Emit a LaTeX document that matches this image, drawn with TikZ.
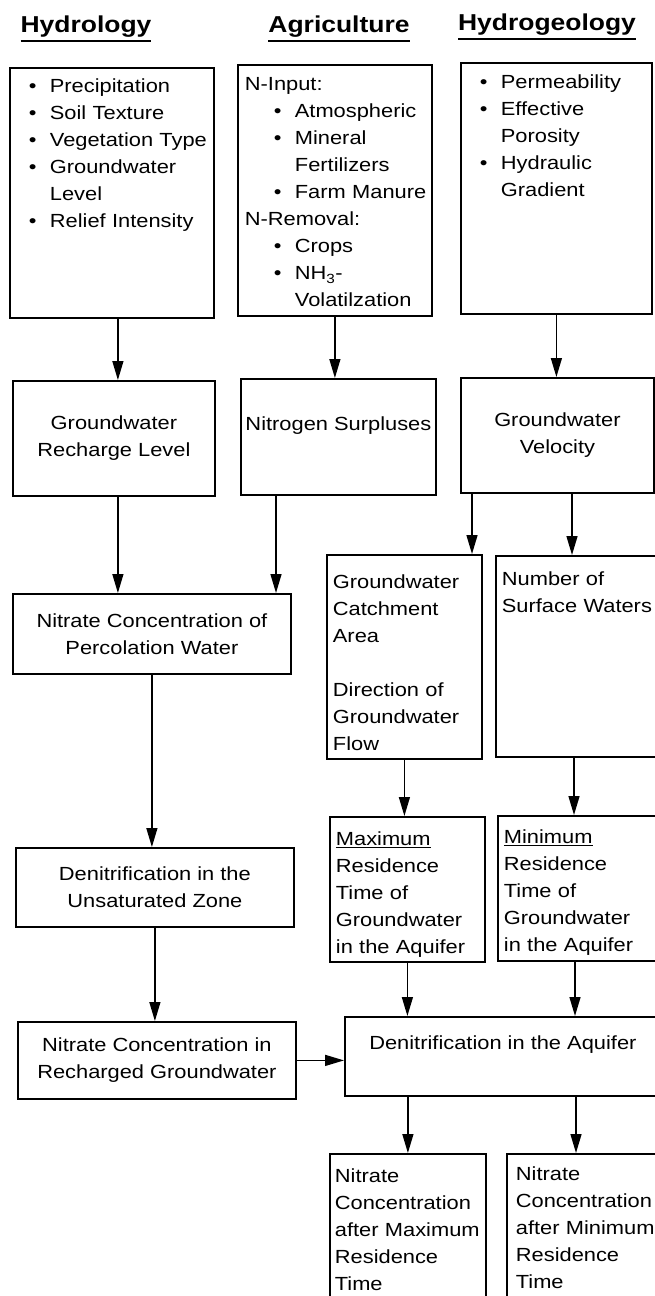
\documentclass[tikz,border=0pt]{standalone}
\usepackage{fontspec}
\setmainfont{Liberation Sans}[FakeStretch=1.15]
\usetikzlibrary{arrows.meta}

\newsavebox\headbox
\newcommand{\headul}[1]{\sbox\headbox{#1}\usebox\headbox\llap{\rule[-10pt]{\wd\headbox}{2.4pt}}}
\newcommand{\hbul}{\hspace*{17pt}\makebox[21pt][l]{\textbullet}}
\newcommand{\hcont}{\hspace*{38pt}}
\newcommand{\nhead}{\hspace*{5pt}}
\newcommand{\nbul}{\hspace*{34pt}\makebox[21pt][l]{\textbullet}}
\newcommand{\ncont}{\hspace*{55pt}}

\begin{document}
\begin{tikzpicture}[x=1pt, y=-1pt,
  head/.style={font=\fontsize{23}{28}\selectfont\bfseries, inner sep=0pt, anchor=base},
  frame/.style={draw, line width=1.8pt, inner ysep=0pt, inner xsep=6pt, anchor=north west, font=\fontsize{19}{27}\selectfont},
  listbox/.style={frame, align=left},
  midbox/.style={frame, align=center},
  arr/.style={-{Triangle[length=19pt,width=11pt]}, line width=1.4pt}
]
\useasboundingbox (0,0) rectangle (654,1296);

% headings
\node[head] (hhyd) at (86,32) {\headul{Hydrology}};
\node[head] (hagri) at (339,32) {\headul{Agriculture}};
\node[head] (hgeo) at (547,30) {\headul{Hydrogeology}};

% input boxes
\node[listbox, inner xsep=2pt, text width=200pt, text height=25pt, text depth=225pt] (hydbox) at (9,67) {
  \hbul Precipitation\\
  \hbul Soil Texture\\
  \hbul Vegetation Type\\
  \hbul Groundwater\\
  \hcont Level\\
  \hbul Relief Intensity};
\node[listbox, inner xsep=2pt, text width=190pt, text height=26pt, text depth=225pt] (agribox) at (237,64) {
  \nhead N-Input:\\
  \nbul Atmospheric\\
  \nbul Mineral\\
  \ncont Fertilizers\\
  \nbul Farm Manure\\
  \nhead N-Removal:\\
  \nbul Crops\\
  \nbul NH\textsubscript{3}-\\
  \ncont Volatilzation};
\node[listbox, inner xsep=2pt, text width=187pt, text height=26pt, text depth=225pt] (geobox) at (460,62) {
  \hbul Permeability\\
  \hbul Effective\\
  \hcont Porosity\\
  \hbul Hydraulic\\
  \hcont Gradient};

% second row
\node[midbox, minimum width=202pt, minimum height=115pt] (recharge) at (12,380) {Groundwater\\Recharge Level};
\node[midbox, inner xsep=3pt, minimum width=195pt, minimum height=116pt] (surplus) at (240,378) {Nitrogen Surpluses\\\mbox{}};
\node[midbox, minimum width=193pt, minimum height=115pt] (velocity) at (460,377) {Groundwater\\Velocity};

\node[midbox, minimum width=278pt, minimum height=80pt] (percol) at (12,593) {Nitrate Concentration of\\Percolation Water};
\node[listbox, text width=143pt, text height=34pt, text depth=170pt] (catchment) at (326,554) {
  Groundwater\\Catchment\\Area\\[27pt]Direction of\\Groundwater\\Flow};
\node[listbox, text width=155pt, text height=30pt, text depth=171pt] (surfwat) at (495,555) {Number of\\Surface Waters};

\node[midbox, minimum width=278pt, minimum height=79pt] (unsat) at (15,847) {Denitrification in the\\Unsaturated Zone};
\node[listbox, text width=143pt, text height=29pt, text depth=116pt] (maxres) at (329,816) {
  \underline{Maximum}\\Residence\\Time of\\Groundwater\\in the Aquifer};
\node[listbox, text width=153pt, text height=28pt, text depth=117pt] (minres) at (497,815) {
  \underline{Minimum}\\Residence\\Time of\\Groundwater\\in the Aquifer};

\node[midbox, minimum width=278pt, minimum height=77pt] (rechgw) at (17,1021) {Nitrate Concentration in\\Recharged Groundwater};
\node[midbox, minimum width=316pt, minimum height=79pt] (aquifer) at (344,1016) {Denitrification in the Aquifer\\\mbox{}};

\node[listbox, inner xsep=5pt, text width=146pt, text height=29pt, text depth=130pt] (nmax) at (329,1153) {
  Nitrate\\Concentration\\after Maximum\\Residence\\Time};
\node[listbox, inner xsep=9pt, text width=150pt, text height=27pt, text depth=130pt] (nmin) at (506,1153) {
  Nitrate\\Concentration\\after Minimum\\Residence\\Time};

% arrows
\draw[arr] ([xshift=6pt]hydbox.south) -- ([xshift=6pt]hydbox.south |- recharge.north);
\draw[arr] (agribox.south) -- (agribox.south |- surplus.north);
\draw[arr] (geobox.south) -- (geobox.south |- velocity.north);
\draw[arr] ([xshift=4pt]recharge.south) -- ([xshift=4pt]recharge.south |- percol.north);
\draw[arr] ([xshift=36pt]surplus.south west) -- ([xshift=36pt]surplus.south west |- percol.north);
\draw[arr] ([xshift=12pt]velocity.south west) -- ([xshift=12pt]velocity.south west |- catchment.north);
\draw[arr] ([xshift=112pt]velocity.south west) -- ([xshift=112pt]velocity.south west |- surfwat.north);
\draw[arr] (percol.south) -- (percol.south |- unsat.north);
\draw[arr] (catchment.south) -- (catchment.south |- maxres.north);
\draw[arr] ([xshift=79pt]surfwat.south west) -- ([xshift=79pt]surfwat.south west |- minres.north);
\draw[arr] (unsat.south) -- (unsat.south |- rechgw.north);
\draw[arr] (maxres.south) -- (maxres.south |- aquifer.north);
\draw[arr] ([xshift=78pt]minres.south west) -- ([xshift=78pt]minres.south west |- aquifer.north);
\draw[arr] (rechgw.east) -- (rechgw.east -| aquifer.west);
\draw[arr] (nmax.north |- aquifer.south) -- (nmax.north);
\draw[arr] ([xshift=70pt]nmin.north west |- aquifer.south) -- ([xshift=70pt]nmin.north west);
\end{tikzpicture}
\end{document}
